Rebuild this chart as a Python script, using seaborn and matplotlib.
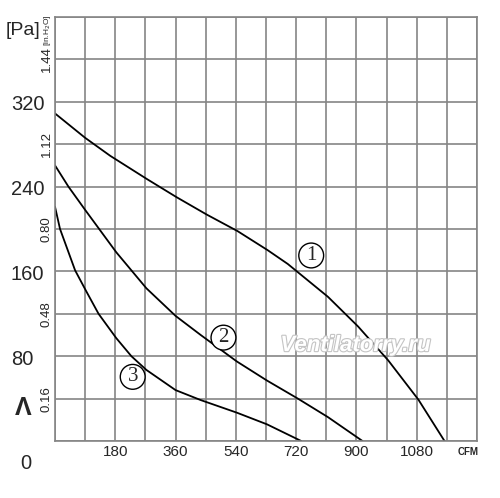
import pandas as pd
import seaborn as sns
import matplotlib.pyplot as plt
import matplotlib.patheffects as pe
from matplotlib.transforms import blended_transform_factory

sns.set_style("white")
NARROW = ["Liberation Sans Narrow", "Liberation Sans", "DejaVu Sans"]
plt.rcParams["font.family"] = NARROW

# fan curves, airflow in CFM and static pressure in Pa
curve1_cfm = [0, 90, 165, 275, 363, 453, 545, 635, 695, 755, 815, 905, 995, 1085, 1163]
curve1_pa = [309, 286, 269, 247, 230, 213.6, 198, 180, 167, 151.5, 136, 108, 76, 39, 0]
curve2_cfm = [0, 40, 90, 183, 273, 360, 435, 543, 633, 725, 815, 918]
curve2_pa = [260, 240, 218, 178, 144, 118, 100, 75, 57, 40, 22.5, 0]
curve3_cfm = [0, 15, 60, 92, 130, 183, 228, 273, 360, 435, 543, 633, 735]
curve3_pa = [221, 200, 161, 142, 120, 97, 80, 67, 48, 38.6, 26.7, 15.7, 0]

x_labels = [180, 360, 540, 720, 900, 1080]
pa_labels = [80, 160, 240, 320]
inh2o_labels = ["0.16", "0.48", "0.80", "1.12", "1.44"]
inh2o_pos = [40, 120, 200, 280, 360]

frames = []
for name, xs, ys in [("1", curve1_cfm, curve1_pa), ("2", curve2_cfm, curve2_pa), ("3", curve3_cfm, curve3_pa)]:
    frames.append(pd.DataFrame({"cfm": xs, "pa": ys, "curve": name}))
df = pd.concat(frames, ignore_index=True)

fig = plt.figure(figsize=(5, 4.98), dpi=100)
ax = fig.add_axes([0.11, 0.1145, 0.844, 0.8514])

sns.lineplot(data=df, x="cfm", y="pa", hue="curve", units="curve", estimator=None,
             sort=False, palette=["black"] * 3, linewidth=1.3, legend=False, ax=ax)

ax.set_xlim(0, 1260)
ax.set_ylim(0, 400)
ax.set_xticks(range(0, 1261, 90))
ax.set_xticklabels([str(v) if v in x_labels else "" for v in range(0, 1261, 90)],
                   fontsize=11, family=NARROW)
ax.set_yticks(range(0, 401, 40))
ax.set_yticklabels([])
ax.tick_params(length=0, pad=3)
ax.grid(True, color="#858585", linewidth=1.2)
for s in ax.spines.values():
    s.set_color("#858585")
    s.set_linewidth(1.2)
ax.set_xlabel("")
ax.set_ylabel("")

# Pa labels on the left
tr = blended_transform_factory(fig.transFigure, ax.transData)
for v in pa_labels:
    ax.text(0.022, v - 3, str(v), transform=tr, ha="left", va="center", fontsize=14.5, family=NARROW)
ax.text(0.052, -21, "0", transform=tr, ha="center", va="center", fontsize=14.5, family=NARROW)
ax.text(0.047, 31, "Λ", transform=tr, ha="center", va="center", fontsize=18,
        fontweight="bold", family=NARROW)
for lab, v in zip(inh2o_labels, inh2o_pos):
    ax.text(0.094, v, lab, transform=tr, ha="center", va="center", rotation=90,
            fontsize=9.5, family=NARROW)

fig.text(0.046, 0.938, "[Pa]", ha="center", va="center", fontsize=14, family=NARROW)
fig.text(0.095, 0.94, "[in.H$_2$O]", ha="center", va="center", rotation=90, fontsize=6,
         family=NARROW)
fig.text(0.936, 0.0924, "CFM", ha="center", va="center", fontsize=7, fontweight="bold",
         family=NARROW)

# curve numbers
for lab, cx, cy in [("1", 765, 175), ("2", 503, 97.5), ("3", 232, 60.5)]:
    ax.text(cx, cy, lab, ha="center", va="center", fontsize=15, family="Liberation Serif",
            bbox=dict(boxstyle="circle,pad=0.14", fc="white", ec="black", lw=1.0))

ax.text(897, 90, "Ventilatorry.ru", ha="center", va="center", fontsize=16, fontweight="bold",
        style="italic", family="Liberation Sans", color="white",
        path_effects=[pe.withStroke(linewidth=1.6, foreground="#c4c4c4")])

fig.savefig("out.png", dpi=100)
